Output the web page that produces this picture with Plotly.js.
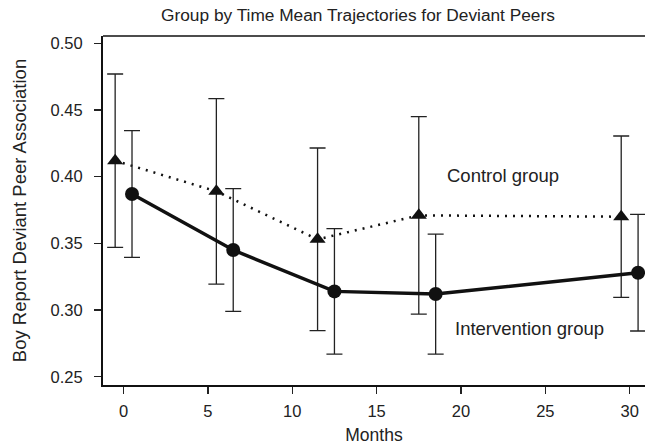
<!DOCTYPE html>
<html>
<head>
<meta charset="utf-8">
<script src="https://cdn.plot.ly/plotly-3.0.1.min.js"></script>
<style>html,body{margin:0;padding:0;overflow:hidden;background:#fff;}#chart{width:645px;height:445px;}</style>
</head>
<body>
<div id="chart"></div>
<script>
// Data
var controlMonths = [-0.5, 5.5, 11.5, 17.5, 29.5];
var controlMeans = [0.412, 0.389, 0.353, 0.371, 0.370];
var controlErr = [0.065, 0.0695, 0.0685, 0.074, 0.0605];

var interventionMonths = [0.5, 6.5, 12.5, 18.5, 30.5];
var interventionMeans = [0.387, 0.345, 0.314, 0.312, 0.328];
var interventionErr = [0.0475, 0.046, 0.047, 0.045, 0.0437];

var xTicks = [0, 5, 10, 15, 20, 25, 30];
var yTicks = [0.25, 0.30, 0.35, 0.40, 0.45, 0.50];
var yTickText = ['0.25', '0.30', '0.35', '0.40', '0.45', '0.50'];

var FONT = 'Liberation Sans, Arial, Helvetica, sans-serif';

var traces = [
  {
    x: controlMonths, y: controlMeans, type: 'scatter', mode: 'lines+markers',
    name: 'Control group',
    line: {color: '#111', width: 2.5, dash: '2px,6px'},
    marker: {symbol: 'triangle-up', size: 14, color: '#111'},
    error_y: {type: 'data', array: controlErr, visible: true, color: '#222', thickness: 1.3, width: 8},
    cliponaxis: false
  },
  {
    x: interventionMonths, y: interventionMeans, type: 'scatter', mode: 'lines+markers',
    name: 'Intervention group',
    line: {color: '#111', width: 3.5},
    marker: {symbol: 'circle', size: 14, color: '#111'},
    error_y: {type: 'data', array: interventionErr, visible: true, color: '#222', thickness: 1.3, width: 8},
    cliponaxis: false
  }
];

var layout = {
  width: 645, height: 445,
  margin: {l: 103, r: 0, t: 36, b: 60},
  paper_bgcolor: '#fff', plot_bgcolor: '#fff',
  showlegend: false,
  font: {family: FONT, color: '#222', size: 16},
  title: {text: 'Group by Time Mean Trajectories for Deviant Peers', font: {family: FONT, size: 17.3, color: '#222'},
          x: 0.555, xref: 'container', xanchor: 'center', y: 0.966, yref: 'container', yanchor: 'middle'},
  xaxis: {
    range: [-1.22, 30.91], tickvals: xTicks, ticks: 'outside', ticklen: 7, tickwidth: 1.3, tickcolor: '#222',
    showgrid: false, zeroline: false, showline: true, linecolor: '#111', linewidth: 2,
    tickfont: {family: FONT, size: 16.5, color: '#222'}, ticklabelstandoff: 3,
    title: {text: 'Months', font: {family: FONT, size: 17.5, color: '#222'}, standoff: 14}
  },
  yaxis: {
    range: [0.2438, 0.5055], tickvals: yTicks, ticktext: yTickText, ticks: 'outside', ticklen: 7, tickwidth: 1.3, tickcolor: '#222',
    showgrid: false, zeroline: false, showline: true, linecolor: '#111', linewidth: 2,
    tickfont: {family: FONT, size: 16.5, color: '#222'}, ticklabelstandoff: 8,
    title: {text: 'Boy Report Deviant Peer Association', font: {family: FONT, size: 18.5, color: '#222'}, standoff: 19}
  },
  shapes: [
    {type: 'line', xref: 'paper', yref: 'paper', x0: 0, x1: 1, y0: 1, y1: 1, line: {color: '#111', width: 1.6}}
  ],
  annotations: [
    {x: 19.06, y: 0.401, xref: 'x', yref: 'y', text: 'Control group', showarrow: false, xanchor: 'left', yanchor: 'middle',
     font: {family: FONT, size: 18.5, color: '#222'}},
    {x: 19.53, y: 0.2858, xref: 'x', yref: 'y', text: 'Intervention group', showarrow: false, xanchor: 'left', yanchor: 'middle',
     font: {family: FONT, size: 18.5, color: '#222'}}
  ]
};

Plotly.newPlot('chart', traces, layout, {displayModeBar: false, staticPlot: true});
</script>
</body>
</html>
